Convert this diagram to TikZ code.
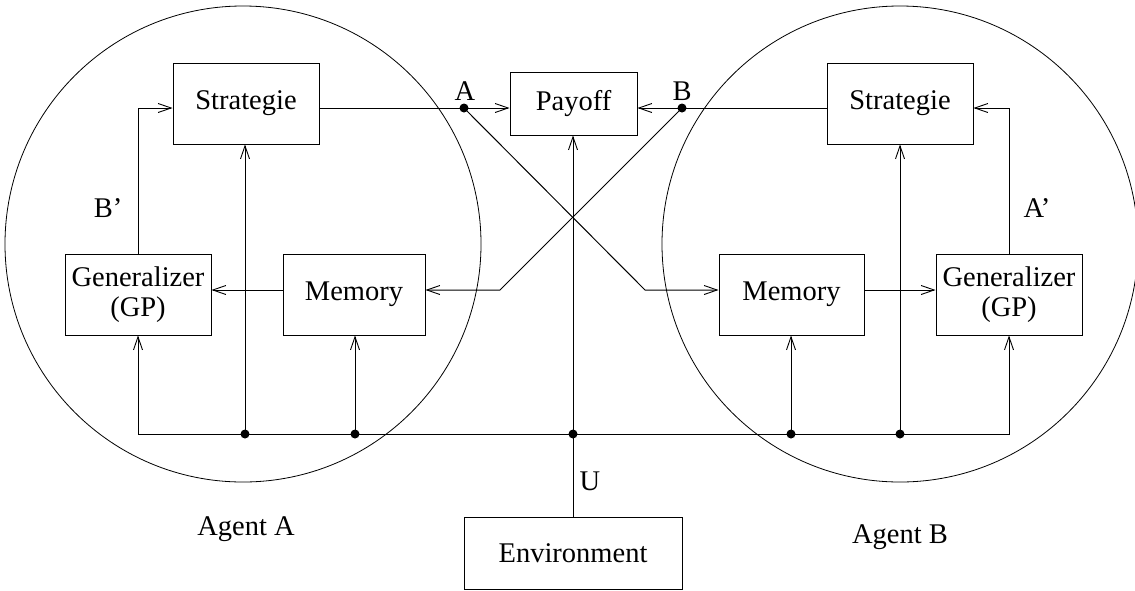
\documentclass[tikz,border=0pt]{standalone}
\usepackage{fontspec}
\setmainfont{Liberation Serif}
\usetikzlibrary{arrows.meta}
\tikzset{
  box/.style={draw, line width=1pt, rectangle, inner sep=0pt, align=center,
    font=\fontsize{28.5}{30}\selectfont},
  lbl/.style={inner sep=0pt, anchor=base, font=\fontsize{28.5}{30}\selectfont},
  wire/.style={line width=1pt},
  arr/.style={wire, -{Straight Barb[length=13pt,width=9pt,line width=0.9pt]}},
  arr2/.style={wire, {Straight Barb[length=13pt,width=9pt,line width=0.9pt]}-{Straight Barb[length=13pt,width=9pt,line width=0.9pt]}},
  jdot/.style={circle, fill=black, inner sep=0pt, minimum size=9pt},
}
\begin{document}
\begin{tikzpicture}[x=1pt,y=-1pt]
\useasboundingbox (0,0) rectangle (1135,590);
\clip (0,0) rectangle (1135,590);

% agent circles
\node[draw, circle, line width=0.8pt, minimum size=476pt, inner sep=0pt] (circA) at (243,244) {};
\node[draw, circle, line width=0.8pt, minimum size=476pt, inner sep=0pt] (circB) at (900,244) {};

% boxes
\node[box, minimum width=146pt, minimum height=81pt] (stratA) at (246,103.5) {Strategie};
\node[box, minimum width=146pt, minimum height=81pt] (stratB) at (900,103.5) {Strategie};
\node[box, minimum width=127pt, minimum height=63pt] (payoff) at (573.5,103.5) {Payoff};
\node[box, minimum width=146pt, minimum height=81pt] (genA) at (138,294.5) {Generalizer\\(GP)};
\node[box, minimum width=142pt, minimum height=81pt] (memA) at (354,294.5) {Memory};
\node[box, minimum width=145pt, minimum height=81pt] (memB) at (791.5,294.5) {Memory};
\node[box, minimum width=146pt, minimum height=81pt] (genB) at (1009,294.5) {Generalizer\\(GP)};
\node[box, minimum width=218pt, minimum height=72pt] (env) at (573,553) {Environment};

% junction points
\node[jdot] (dA) at (464,108) {};
\node[jdot] (dB) at (682,108) {};
\coordinate (kA) at (645,290);
\coordinate (kB) at (500,290);
\node[jdot] (b1) at (245,434) {};
\node[jdot] (b2) at (355,434) {};
\node[jdot] (b3) at (573,434) {};
\node[jdot] (b4) at (791,434) {};
\node[jdot] (b5) at (900,434) {};

% strategies to payoff
\draw[arr] (stratA.east |- dA) -- (payoff.west |- dA);
\draw[arr] (stratB.west |- dB) -- (payoff.east |- dB);

% crossing lines to memories
\draw[arr] (dA.center) -- (kA) -- (memB.west |- kA);
\draw[arr] (dB.center) -- (kB) -- (memA.east |- kB);

% memory to generalizer
\draw[arr] (memA.west |- kB) -- (genA.east |- kB);
\draw[arr] (memB.east |- kA) -- (genB.west |- kA);

% generalizer feedback to strategie
\draw[arr] (genA.north) -- (genA.north |- dA) -- (stratA.west |- dA);
\draw[arr] (genB.north) -- (genB.north |- dB) -- (stratB.east |- dB);

% bus
\draw[arr2] (genA.south) -- (genA.south |- b1) -- (genB.south |- b1) -- (genB.south);
\draw[arr] (b1.center) -- (b1 |- stratA.south);
\draw[arr] (b2.center) -- (b2 |- memA.south);
\draw[arr] (env.north) -- (b3 |- payoff.south);
\draw[arr] (b4.center) -- (b4 |- memB.south);
\draw[arr] (b5.center) -- (b5 |- stratB.south);

% labels
\node[lbl] (lA) at (465,100) {A};
\node[lbl] (lB) at (682,100) {B};
\node[lbl] (lBp) at (108,217) {B'};
\node[lbl] (lAp) at (1037,217) {A'};
\node[lbl] (lU) at (590,490) {U};
\node[lbl] (agA) at (246,535) {Agent A};
\node[lbl] (agB) at (900,543) {Agent B};
\end{tikzpicture}
\end{document}
